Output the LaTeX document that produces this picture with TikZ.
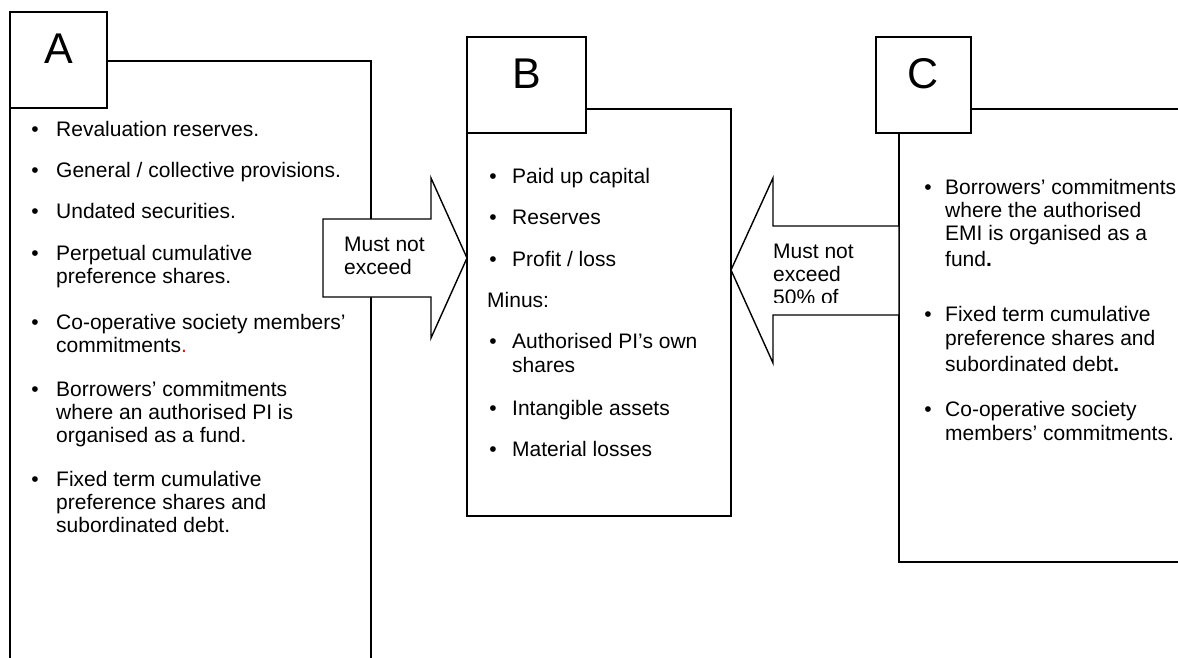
\documentclass[tikz,border=0pt]{standalone}
\usepackage{fontspec}
\setmainfont{Liberation Sans}
\begin{document}
\begin{tikzpicture}[x=1pt,y=-1pt,
  box/.style={draw, line width=1.4pt, fill=white, inner sep=0pt, outer sep=0pt},
  lab/.style={box, minimum height=96pt},
  letter/.style={anchor=base, inner sep=0pt, font=\fontsize{43}{43}\selectfont},
  txt/.style={anchor=base west, inner sep=0pt, align=left, font=\fontsize{21}{23}\selectfont},
  bul/.style={anchor=base, inner sep=0pt, font=\fontsize{21}{23}\selectfont},
  blockarrow/.style={draw, line width=1.4pt, fill=white, line join=miter}]
\useasboundingbox (0,0) rectangle (1178,657);
\clip (0,0) rectangle (1178,657);

% big boxes
\node[box, anchor=north west, minimum width=361pt, minimum height=640pt] (boxA) at (10,61) {};
\node[box, anchor=north west, minimum width=264pt, minimum height=407pt] (boxB) at (467,109) {};
\node[box, anchor=north west, minimum width=320pt, minimum height=453pt] (boxC) at (899,109) {};

% block arrows
\coordinate (tipR) at (boxB.west |- 0,258);
\coordinate (tipL) at (boxB.east |- 0,270);
\draw[blockarrow] (323,219) -- (431,219) -- (431,178) -- (tipR) -- (431,338) -- (431,297) -- (323,297) -- cycle;
\draw[blockarrow] (boxC.west |- 0,226) -- (773,226) -- (773,178) -- (tipL) -- (773,363) -- (773,315) -- (boxC.west |- 0,315) -- cycle;

% label squares
\node[lab, anchor=north west, minimum width=97pt] (labA) at (10,12) {};
\node[lab, anchor=north west, minimum width=119pt] (labB) at (467,37) {};
\node[lab, anchor=north west, minimum width=95pt] (labC) at (876,37) {};
\node[letter] (ltA) at (58.5,63) {A};
\node[letter] (ltB) at (526.5,88) {B};
\node[letter] (ltC) at (923.5,88) {C};

% arrow texts (anchor = baseline of last line)
\node[txt] (mr) at (344,274) {Must not\\exceed};
\begin{scope}
  \clip (760,230) rectangle (895,302.5);
  \node[txt] (ml) at (773,304.5) {Must not\\exceed\\50\% of};
\end{scope}

% A items
\foreach \yy/\nm in {136/ba1,177/ba2,218/ba3,260/ba4,329/ba5,396/ba6,486/ba7}
  \node[bul] (\nm) at (35,\yy) {\textbullet};
\node[txt] (a1) at (56,136) {Revaluation reserves.};
\node[txt] (a2) at (56,177) {General / collective provisions.};
\node[txt] (a3) at (56,218) {Undated securities.};
\node[txt] (a4) at (56,283) {Perpetual cumulative\\preference shares.};
\node[txt] (a5) at (56,352) {Co-operative society members’\\commitments{\color{red}.}};
\node[txt] (a6) at (56,442) {Borrowers’ commitments\\where an authorised PI is\\organised as a fund.};
\node[txt] (a7) at (56,532) {Fixed term cumulative\\preference shares and\\subordinated debt.};

% B items
\foreach \yy/\nm in {183/bb1,224/bb2,266/bb3,348/bb4,415/bb5,456/bb6}
  \node[bul] (\nm) at (493,\yy) {\textbullet};
\node[txt] (b1) at (512,183) {Paid up capital};
\node[txt] (b2) at (512,224) {Reserves};
\node[txt] (b3) at (512,266) {Profit / loss};
\node[txt] (bm) at (487,307) {Minus:};
\node[txt] (b4) at (512,372) {Authorised PI’s own\\[1pt]shares};
\node[txt] (b5) at (512,415) {Intangible assets};
\node[txt] (b6) at (512,456) {Material losses};

% C items
\foreach \yy/\nm in {194/bc1,321/bc2,416/bc3}
  \node[bul] (\nm) at (928,\yy) {\textbullet};
\node[txt] (c1) at (945,266) {Borrowers’ commitments\\where the authorised\\EMI is organised as a\\[3pt]fund\textbf{.}};
\node[txt] (c2) at (945,371) {Fixed term cumulative\\[1pt]preference shares and\\[3pt]subordinated debt\textbf{.}};
\node[txt] (c3) at (945,440) {Co-operative society\\[1pt]members’ commitments.};
\end{tikzpicture}
\end{document}
